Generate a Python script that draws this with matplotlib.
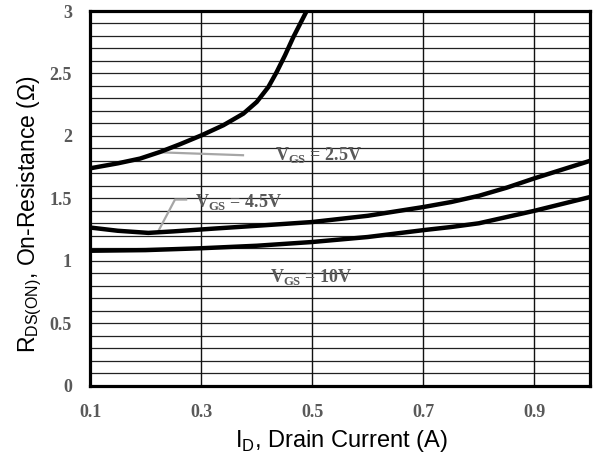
import matplotlib
matplotlib.use("Agg")
import matplotlib.pyplot as plt
import numpy as np

plt.rcParams['mathtext.fontset'] = 'custom'
plt.rcParams['mathtext.rm'] = 'Liberation Sans'
plt.rcParams['mathtext.bf'] = 'Liberation Serif:bold'

# On-resistance vs drain current for three gate voltages
vgs25_x = [0.10, 0.15, 0.19, 0.226, 0.262, 0.301, 0.340, 0.376, 0.400, 0.421, 0.436, 0.451, 0.466, 0.490]
vgs25_y = [1.74, 1.78, 1.818, 1.871, 1.933, 2.005, 2.085, 2.178, 2.271, 2.391, 2.511, 2.645, 2.791, 3.00]

vgs45_x = [0.10, 0.15, 0.205, 0.25, 0.325, 0.40, 0.50, 0.60, 0.70, 0.75, 0.80, 0.85, 0.90, 0.95, 1.00]
vgs45_y = [1.266, 1.24, 1.223, 1.235, 1.258, 1.28, 1.31, 1.36, 1.43, 1.47, 1.52, 1.585, 1.66, 1.73, 1.80]

vgs10_x = [0.10, 0.20, 0.30, 0.40, 0.50, 0.60, 0.70, 0.75, 0.80, 0.85, 0.90, 0.95, 1.00]
vgs10_y = [1.08, 1.085, 1.10, 1.12, 1.15, 1.19, 1.245, 1.27, 1.30, 1.35, 1.40, 1.455, 1.51]

x_ticks = [0.1, 0.3, 0.5, 0.7, 0.9]
y_ticks = [0, 0.5, 1, 1.5, 2, 2.5, 3]
y_tick_labels = ['0', '0.5', '1', '1.5', '2', '2.5', '3']

curve_labels = [r'V$_{\mathbf{GS}}$ = 2.5V', r'V$_{\mathbf{GS}}$ = 4.5V', r'V$_{\mathbf{GS}}$ = 10V']

fig = plt.figure(figsize=(5.95, 4.57), dpi=100)
ax = fig.add_axes([90 / 595, 1 - 385.6 / 457, 500 / 595, 374.6 / 457])

ax.set_xlim(0.1, 1.0)
ax.set_ylim(0, 3)

# grid
for yv in np.arange(0.1, 3.0, 0.1):
    ax.axhline(yv, color='#222222', lw=0.9, zorder=1)
for xv in x_ticks[1:]:
    ax.axvline(xv, color='#111111', lw=1.0, zorder=1)

line_kw = dict(color='black', lw=3.2, zorder=3, solid_capstyle='butt', solid_joinstyle='round')
ax.plot(vgs25_x, vgs25_y, **line_kw)
ax.plot(vgs45_x, vgs45_y, **line_kw)
ax.plot(vgs10_x, vgs10_y, **line_kw)

# leader lines from the labels to the curves
lead_gray = '#a6a6a6'
ax.plot([0.2206, 0.3754], [1.869, 1.845], color=lead_gray, lw=1.6, zorder=2)
ax.plot([0.222, 0.253, 0.273], [1.229, 1.49, 1.49], color=lead_gray, lw=1.6, zorder=2)

txt_kw = dict(fontfamily='Liberation Serif', fontweight='bold', fontsize=13,
              color='#595959', va='baseline', ha='left', zorder=4)
ax.text(0.433, 1.805, curve_labels[0], **txt_kw)
ax.text(0.289, 1.43, curve_labels[1], **txt_kw)
ax.text(0.424, 0.83, curve_labels[2], **txt_kw)

for s in ax.spines.values():
    s.set_linewidth(2.3)
    s.set_color('black')
    s.set_zorder(5)

ax.set_xticks(x_ticks)
ax.set_xticklabels([f'{v:.1f}' for v in x_ticks])
ax.set_yticks(y_ticks)
ax.set_yticklabels(y_tick_labels)
ax.tick_params(length=0, pad=13)
ax.tick_params(axis='x', pad=13)
for lab in ax.get_xticklabels() + ax.get_yticklabels():
    lab.set_fontfamily('Liberation Serif')
    lab.set_fontweight('bold')
    lab.set_fontsize(13)
    lab.set_color('#595959')

ax.set_xlabel(r'I$_{\mathrm{D}}$, Drain Current (A)', fontfamily='Liberation Sans',
              fontsize=17)
ax.set_ylabel(r'R$_{\mathrm{DS(ON)}}$, On-Resistance (Ω)', fontfamily='Liberation Sans',
              fontsize=16.5)
ax.xaxis.set_label_coords(341.5 / 595, 1 - 447 / 457, transform=fig.transFigure)
ax.xaxis.label.set_va('baseline')
ax.yaxis.set_label_coords(30 / 595, 1 - 214.5 / 457, transform=fig.transFigure)
ax.yaxis.label.set_va('center')

fig.savefig('out.png', dpi=100)
